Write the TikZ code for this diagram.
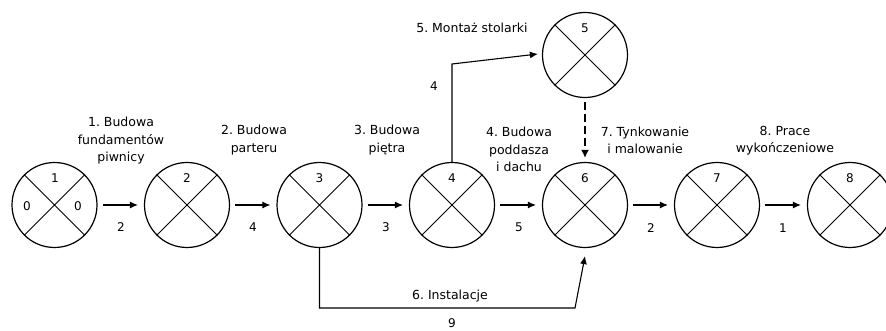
\documentclass[tikz,border=0pt]{standalone}
\usepackage{fontspec}
\setmainfont{DejaVu Sans}
\usetikzlibrary{arrows.meta}
\begin{document}
\begin{tikzpicture}[x=1pt,y=-1pt,
  evt/.style={circle,draw,line width=1.2pt,minimum size=85pt,inner sep=0pt},
  lbl/.style={font=\fontsize{12.5}{17.5}\selectfont,align=center,inner sep=0pt},
  num/.style={font=\fontsize{12}{13}\selectfont,inner sep=0pt},
  arr/.style={line width=1.1pt,-{Latex[length=8pt,width=7pt]}},
  dasharr/.style={line width=2.4pt,dash pattern=on 8pt off 4pt,-{Latex[length=8pt,width=8pt]}}]
\clip (0,0) rectangle (886,331);
\useasboundingbox (0,0) rectangle (886,331);
\fill[white] (0,0) rectangle (886,331);
\foreach \n/\x/\y in {1/54.5/205,2/187/205,3/319.5/205,4/452/205,5/585/55,6/585/205,7/717/205,8/850/205}{
  \node[evt] (c\n) at (\x,\y) {};
  \draw[line width=1pt] (c\n.north west) -- (c\n.south east) (c\n.north east) -- (c\n.south west);
}
% numbers in circles
\node[num] (t1) at (55,178) {1};
\node[num] (l1) at (27,206) {0};
\node[num] (r1) at (78,206) {0};
\foreach \n in {2,3,4,5,6,7,8}{\node[num] (t\n) at ([yshift=27pt]c\n.center) {\n};}
% horizontal arrows
\draw[arr] ([xshift=5pt]c1.east) -- ([xshift=-6pt]c2.west);
\draw[arr] ([xshift=5pt]c2.east) -- ([xshift=-6pt]c3.west);
\draw[arr] ([xshift=5pt]c3.east) -- ([xshift=-6pt]c4.west);
\draw[arr] ([xshift=5pt]c4.east) -- ([xshift=-6pt]c6.west);
\draw[arr] ([xshift=5pt]c6.east) -- ([xshift=-6pt]c7.west);
\draw[arr] ([xshift=5pt]c7.east) -- ([xshift=-6pt]c8.west);
% durations
\node[num] (d12) at (121,227) {2};
\node[num] (d23) at (253,227) {4};
\node[num] (d34) at (386,227) {3};
\node[num] (d46) at (519,227) {5};
\node[num] (d67) at (651,228) {2};
\node[num] (d78) at (783,228) {1};
% task labels
\node[lbl] (L1) at (121,141) {1.\ Budowa\\fundamentów\\piwnicy};
\node[lbl] (L2) at (254,140) {2.\ Budowa\\parteru};
\node[lbl] (L3) at (387,140) {3.\ Budowa\\piętra};
\node[lbl] (L4) at (519,149.5) {4.\ Budowa\\poddasza\\i dachu};
\node[lbl] (L7) at (645,140.5) {7.\ Tynkowanie\\i malowanie};
\node[lbl] (L8) at (785,140.5) {8.\ Prace\\wykończeniowe};
\node[lbl] (L5) at (472,28) {5.\ Montaż stolarki};
% 4 -> 5
\coordinate (k45) at (452,64);
\draw[arr] (c4.north) -- (k45) -- ([xshift=-4pt,yshift=1pt]c5.west);
\node[num] (d45) at (434,86) {4};
% dummy 5 -> 6
\draw[dasharr] ([yshift=-4pt]c5.south) -- ([yshift=4pt]c6.north);
% 3 -> 6 installations
\coordinate (k36a) at (319.5,308);
\coordinate (k36b) at (575,308);
\draw[arr] (c3.south) -- (k36a) -- (k36b) -- ([yshift=-8pt]c6.south);
\node[lbl] (L6) at (450,296) {6.\ Instalacje};
\node[num] (d36) at (452,323) {9};
\end{tikzpicture}
\end{document}
